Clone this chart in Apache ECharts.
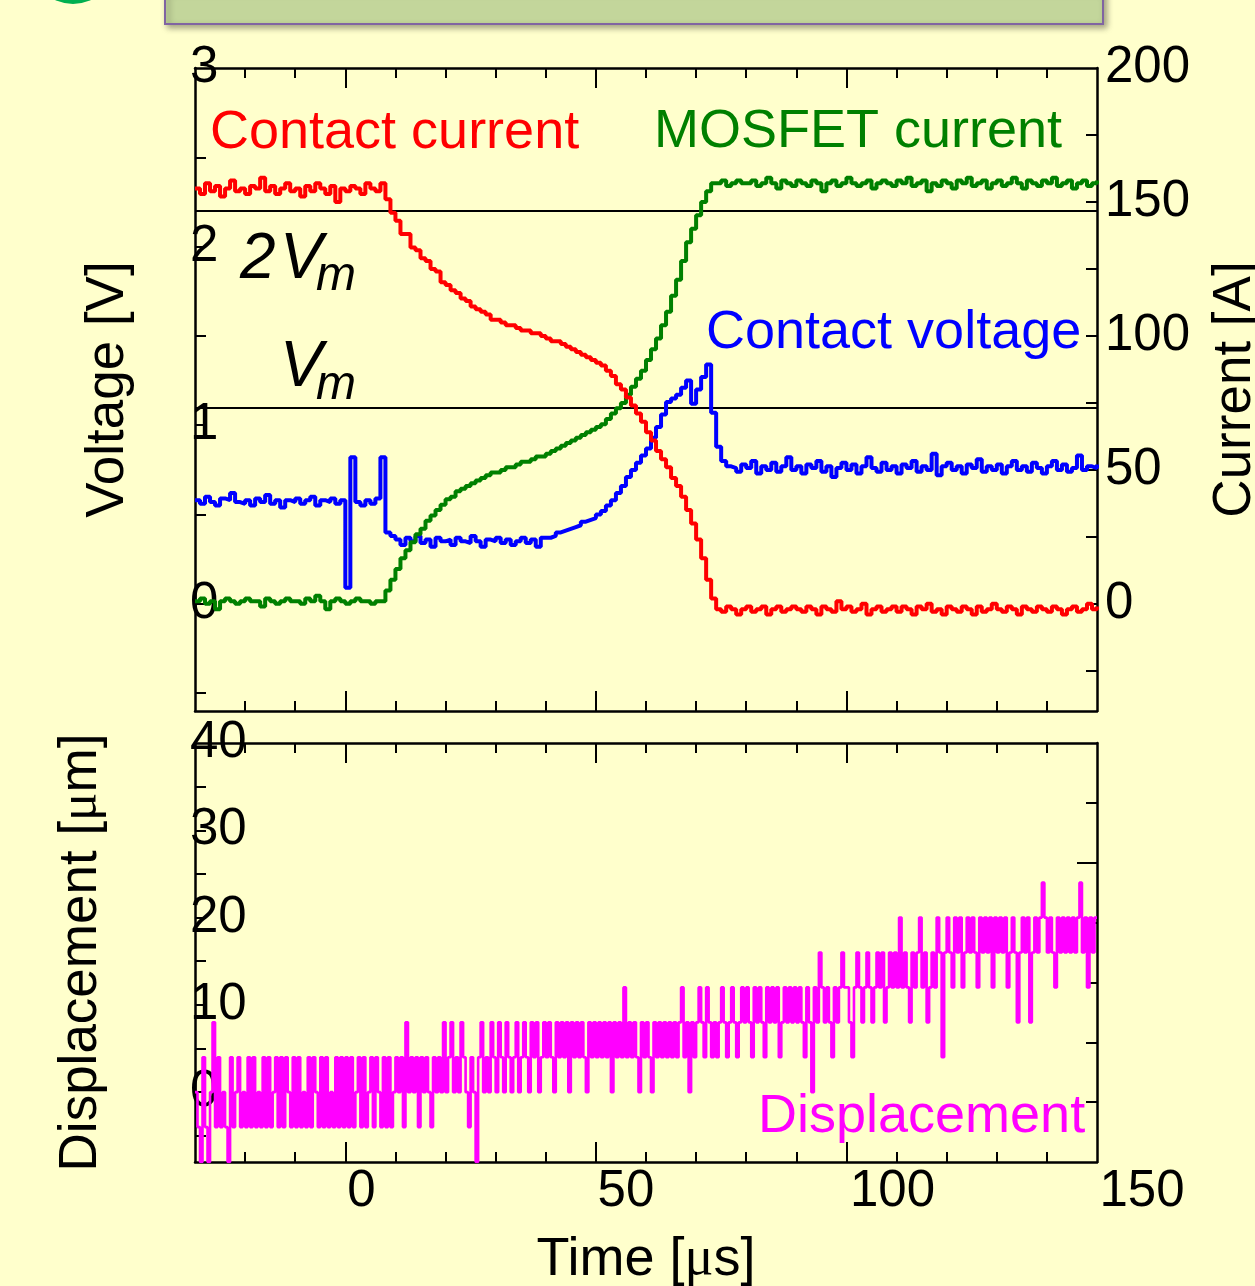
<!DOCTYPE html>
<html>
<head>
<meta charset="utf-8">
<script src="https://cdn.jsdelivr.net/npm/echarts@6/dist/echarts.min.js"></script>
<style>
  html, body { margin: 0; padding: 0; background: #ffffcc; }
  #chart { width: 1255px; height: 1286px; }
</style>
</head>
<body>
<div id="chart"></div>
<script>
// sample timing of the scope traces [us]
const timeStart = -30;
const timeStep = 1;      // top panel traces
const dispStep = 0.5;    // displacement trace

// contact current [A], t = -30 .. 150
const contactCurrent = [
  155,153,157,154,156,152,155,158,154,155,
  153,156,155,159,154,156,153,155,157,154,
  155,152,156,154,157,155,153,156,150,155,
  154,156,155,153,157,155,154,157,151,146,
  143,138,138,133,132,129,128,125,124,120,
  119,117,116,114,113,111,110,109,108,106,
  106,105,104,104,103,102,102,101,101,100,
  99,98,98,97,96,95,94,93,92,91,
  90,89,87,85,82,80,77,74,71,68,
  64,61,57,54,51,47,44,40,35,30,
  24,17,9,2,-2,-3,-1,-2,-4,-2,
  -1,-3,-2,-1,-4,-2,-1,-3,-2,-1,
  -2,-3,-1,-2,-4,-1,-2,-3,1,-2,
  -1,-3,-2,0,-4,-2,-1,-3,-2,-1,
  -3,-1,-2,-4,-1,-2,0,-3,-2,-4,
  -1,-2,-3,-1,-2,-4,-1,-3,-2,0,
  -2,-3,-1,-2,-4,-1,-2,-3,-1,-2,
  -3,-1,-2,-4,-2,-1,-3,-2,0,-2,
  -1
];

// MOSFET current [A]
const mosfetCurrent = [
  1,2,0,1,-2,1,2,1,0,1,
  2,1,1,-1,2,1,0,1,2,1,
  1,0,2,1,3,1,-2,1,2,1,
  0,1,2,1,1,0,1,1,5,9,
  13,17,20,23,26,28,31,33,35,37,
  39,40,42,43,44,45,46,47,48,49,
  49,50,51,51,52,53,53,54,55,55,
  56,57,58,59,60,61,62,63,64,65,
  66,67,69,71,73,75,78,81,84,87,
  91,95,99,104,109,115,121,128,135,140,
  145,150,154,157,157,158,156,157,158,157,
  157,158,156,157,159,157,155,158,157,156,
  158,157,156,158,157,154,157,158,156,157,
  159,157,156,157,158,155,157,158,157,156,
  158,157,159,156,157,158,154,157,156,158,
  157,155,158,157,159,156,157,158,155,157,
  158,156,157,159,157,155,158,157,156,158,
  157,159,156,157,158,155,157,158,156,157,
  158
];

// contact voltage [V]
const contactVoltage = [
  0.58,0.56,0.60,0.57,0.55,0.59,0.58,0.62,0.57,0.56,
  0.58,0.55,0.59,0.57,0.61,0.56,0.58,0.54,0.58,0.57,
  0.59,0.56,0.58,0.60,0.55,0.58,0.57,0.59,0.56,0.58,
  0.09,0.82,0.57,0.55,0.58,0.56,0.59,0.82,0.40,0.38,
  0.36,0.33,0.37,0.35,0.38,0.34,0.36,0.32,0.37,0.35,
  0.36,0.33,0.37,0.35,0.34,0.38,0.35,0.32,0.36,0.35,
  0.37,0.34,0.36,0.33,0.35,0.37,0.34,0.36,0.32,0.37,
  0.37,0.38,0.40,0.41,0.42,0.43,0.44,0.46,0.47,0.48,
  0.50,0.52,0.55,0.58,0.62,0.66,0.71,0.75,0.79,0.83,
  0.87,0.93,0.99,1.06,1.13,1.15,1.17,1.21,1.25,1.12,
  1.20,1.27,1.34,1.07,0.88,0.80,0.77,0.76,0.74,0.78,
  0.76,0.80,0.73,0.77,0.75,0.79,0.74,0.77,0.82,0.75,
  0.77,0.73,0.78,0.76,0.80,0.74,0.77,0.71,0.76,0.79,
  0.75,0.78,0.73,0.77,0.82,0.76,0.74,0.79,0.75,0.77,
  0.73,0.78,0.76,0.80,0.74,0.77,0.75,0.84,0.72,0.77,
  0.79,0.75,0.77,0.73,0.78,0.76,0.81,0.74,0.77,0.75,
  0.78,0.73,0.77,0.80,0.75,0.77,0.74,0.79,0.76,0.73,
  0.77,0.80,0.75,0.78,0.74,0.76,0.83,0.75,0.77,0.76,
  0.78
];

// displacement [um], t = -30 .. 150 every 0.5 us
const displacement = [
  0,-4,-8,4,-4,-8,0,8,-4,4,-4,0,-4,-8,4,-4,0,4,-4,0,
  -4,4,-4,4,-4,0,-4,4,-4,4,-4,0,4,-4,4,-4,4,0,-4,4,
  -4,4,-4,0,-4,4,-4,4,0,-4,4,-4,4,-4,0,-4,4,-4,4,-4,
  4,-4,4,-4,0,4,-4,4,-4,0,4,-4,4,0,-4,4,-4,4,-4,0,
  4,0,4,-4,8,0,4,0,4,-4,4,0,4,0,-4,4,0,4,0,8,
  0,4,8,0,4,0,8,4,0,-4,4,0,-8,4,8,0,4,0,8,4,
  0,8,4,0,8,4,0,4,8,0,4,8,4,0,8,4,8,0,4,8,
  4,8,4,0,8,4,8,4,8,0,8,4,8,4,8,4,0,8,4,8,
  4,8,4,8,4,8,0,8,4,8,4,12,4,8,4,8,4,0,8,4,
  8,4,0,8,4,8,4,8,4,8,4,8,4,8,12,4,8,0,8,4,
  8,12,8,4,12,8,4,8,4,8,12,8,4,8,12,8,4,8,12,8,
  12,8,4,12,8,12,8,4,12,8,12,8,12,4,8,12,8,12,8,12,
  8,12,8,4,12,8,0,12,8,16,12,8,12,8,4,12,8,12,16,12,
  12,8,4,12,16,12,8,12,16,12,8,12,16,12,16,8,12,16,12,16,
  12,20,12,16,12,8,16,12,16,20,12,16,8,12,16,12,20,16,4,16,
  20,16,12,20,16,20,12,16,20,16,20,16,12,20,16,20,16,20,12,20,
  16,20,16,20,12,16,20,16,8,16,20,16,20,8,16,20,16,20,24,20,
  16,20,16,12,20,16,20,16,20,16,20,16,20,24,16,20,12,20,16,20,
  20
];

// reference levels Vm and 2Vm [V]
const vmLevels = [1.1, 2.2];

// ticks and labels
const timeMinorTicks = [-20,-10,10,20,30,40,60,70,80,90,110,120,130,140];
const timeMajorTicks = [0,50,100];
const timeLabels = [0,50,100,150];
const voltTicks = [-0.5,0,0.5,1,1.5,2,2.5];
const voltLabels = [0,1,2,3];
const currentTicks = [-25,0,25,50,75,100,125,150,175];
const currentLabels = [0,50,100,150,200];
const dispTicks = [-5,0,5,10,15,20,25,30,35];
const dispLabels = [0,10,20,30,40];

function withTime(values, step) {
  return values.map((v, i) => [timeStart + i * step, v]);
}

const FONT = 'Liberation Sans, Arial, sans-serif';
const black = '#000';

function frameX(grid, pos, ticks, len, extra) {
  return Object.assign({
    type: 'value', gridIndex: grid, position: pos, min: -30, max: 150,
    axisLine: { onZero: false, lineStyle: { color: black, width: 2.5 } },
    axisTick: { inside: true, length: len, customValues: ticks, lineStyle: { color: black, width: 2 } },
    axisLabel: { show: false },
    splitLine: { show: false }
  }, extra || {});
}

// x labels sit a bit right of their ticks in the original slide
const labelShift = { 0: 'a', 50: 'b', 100: 'c', 150: 'd' };

let chart = echarts.init(document.getElementById('chart'));
chart.setOption({
  animation: false,
  backgroundColor: '#ffffcc',
  textStyle: { fontFamily: FONT },
  grid: [
    { left: 195, top: 68, width: 902, height: 643, containLabel: false, outerBoundsMode: 'none' },
    { left: 195, top: 743, width: 902, height: 419, containLabel: false, outerBoundsMode: 'none' }
  ],
  xAxis: [
    frameX(0, 'bottom', timeMinorTicks, 10),
    frameX(0, 'bottom', timeMajorTicks, 20, { axisLine: { show: false, onZero: false } }),
    frameX(0, 'top', timeMinorTicks, 10),
    frameX(0, 'top', timeMajorTicks, 20, { axisLine: { show: false, onZero: false } }),
    frameX(1, 'bottom', timeMinorTicks, 10, {
      name: '{t|Time [}{u|μ}{t|s]}',
      nameLocation: 'middle',
      nameGap: 71,
      nameTextStyle: {
        rich: {
          t: { fontSize: 54, fontFamily: FONT, color: black },
          u: { fontSize: 54, fontFamily: 'Liberation Serif, serif', color: black }
        }
      },
      axisLabel: {
        show: true, customValues: timeLabels, margin: 4,
        formatter: v => '{' + labelShift[v] + '|' + v + '}',
        rich: {
          a: { fontSize: 51, color: black, fontFamily: FONT, padding: [0, 0, 0, 32] },
          b: { fontSize: 51, color: black, fontFamily: FONT, padding: [0, 0, 0, 60] },
          c: { fontSize: 51, color: black, fontFamily: FONT, padding: [0, 0, 0, 92] },
          d: { fontSize: 51, color: black, fontFamily: FONT, padding: [0, 0, 0, 90] }
        }
      }
    }),
    frameX(1, 'bottom', timeMajorTicks, 20, { axisLine: { show: false, onZero: false } }),
    frameX(1, 'top', timeMinorTicks, 10),
    frameX(1, 'top', timeMajorTicks, 20, { axisLine: { show: false, onZero: false } })
  ],
  yAxis: [
    {
      type: 'value', gridIndex: 0, position: 'left', min: -0.6, max: 3,
      name: 'Voltage [V]', nameLocation: 'middle', nameGap: 60, nameRotate: 90,
      nameTextStyle: { fontSize: 53, color: black },
      axisLine: { onZero: false, lineStyle: { color: black, width: 2.5 } },
      axisTick: { inside: true, length: 11, customValues: voltTicks, lineStyle: { color: black, width: 2 } },
      axisLabel: { customValues: voltLabels, align: 'left', margin: 5, fontSize: 51, color: black },
      splitLine: { show: false }
    },
    {
      type: 'value', gridIndex: 0, position: 'right', min: -40, max: 200,
      name: 'Current [A]', nameLocation: 'middle', nameGap: 112, nameRotate: 90,
      nameTextStyle: { fontSize: 53, color: black },
      axisLine: { onZero: false, lineStyle: { color: black, width: 2.5 } },
      axisTick: { inside: true, length: 11, customValues: currentTicks, lineStyle: { color: black, width: 2 } },
      axisLabel: { customValues: currentLabels, margin: 8, fontSize: 51, color: black },
      splitLine: { show: false }
    },
    {
      type: 'value', gridIndex: 1, position: 'left', min: -8, max: 40,
      name: '{t|Displacement [}{u|μ}{t|m]}', nameLocation: 'middle', nameGap: 87, nameRotate: 90,
      nameTextStyle: {
        rich: {
          t: { fontSize: 53, fontFamily: FONT, color: black },
          u: { fontSize: 53, fontFamily: 'Liberation Serif, serif', color: black }
        }
      },
      axisLine: { onZero: false, lineStyle: { color: black, width: 2.5 } },
      axisTick: { inside: true, length: 11, customValues: dispTicks, lineStyle: { color: black, width: 2 } },
      axisLabel: { customValues: dispLabels, align: 'left', margin: 5, fontSize: 51, color: black },
      splitLine: { show: false }
    },
    {
      type: 'value', gridIndex: 1, position: 'right', min: 0, max: 7,
      axisLine: { onZero: false, lineStyle: { color: black, width: 2.5 } },
      axisTick: { inside: true, length: 11, customValues: [1, 2, 3, 4, 6], lineStyle: { color: black, width: 2 } },
      axisLabel: { show: false },
      splitLine: { show: false }
    },
    {
      type: 'value', gridIndex: 1, position: 'right', min: 0, max: 7,
      axisLine: { show: false, onZero: false },
      axisTick: { inside: true, length: 20, customValues: [5], lineStyle: { color: black, width: 2 } },
      axisLabel: { show: false },
      splitLine: { show: false }
    }
  ],
  series: [
    {
      name: 'Contact voltage', type: 'line', xAxisIndex: 0, yAxisIndex: 0,
      step: 'end', showSymbol: false, data: withTime(contactVoltage, timeStep),
      lineStyle: { color: '#0000ff', width: 4 },
      markLine: {
        silent: true, symbol: 'none', z: 1,
        label: { show: false },
        lineStyle: { color: black, width: 2, type: 'solid' },
        data: vmLevels.map(v => ({ yAxis: v }))
      }
    },
    {
      name: 'MOSFET current', type: 'line', xAxisIndex: 0, yAxisIndex: 1,
      step: 'end', showSymbol: false, data: withTime(mosfetCurrent, timeStep),
      lineStyle: { color: '#008000', width: 4 }
    },
    {
      name: 'Contact current', type: 'line', xAxisIndex: 0, yAxisIndex: 1,
      step: 'end', showSymbol: false, data: withTime(contactCurrent, timeStep),
      lineStyle: { color: '#ff0000', width: 4 }
    },
    {
      name: 'Displacement', type: 'line', xAxisIndex: 4, yAxisIndex: 2,
      step: 'end', showSymbol: false, data: withTime(displacement, dispStep),
      lineStyle: { color: '#ff00ff', width: 2.6 }
    }
  ],
  graphic: [
    // bits of the slide around the chart
    { type: 'circle', shape: { cx: 73, cy: -38, r: 42 }, style: { fill: '#00b050' } },
    {
      type: 'rect', shape: { x: 165, y: -10, width: 938, height: 34 },
      style: { fill: '#c3d69b', stroke: '#8064a2', lineWidth: 2,
        shadowBlur: 6, shadowOffsetX: 3, shadowOffsetY: 3, shadowColor: 'rgba(0,0,0,0.35)' }
    },
    { type: 'text', x: 210, y: 133, style: { text: 'Contact current', fill: '#ff0000', font: '54px ' + FONT, textVerticalAlign: 'middle' } },
    { type: 'text', x: 654, y: 132, style: { text: 'MOSFET current', fill: '#008000', font: '54px ' + FONT, textVerticalAlign: 'middle' } },
    { type: 'text', x: 706, y: 333, style: { text: 'Contact voltage', fill: '#0000ff', font: '54px ' + FONT, textVerticalAlign: 'middle' } },
    { type: 'text', x: 758, y: 1117, style: { text: 'Displacement', fill: '#ff00ff', font: '54px ' + FONT, textVerticalAlign: 'middle' } },
    { type: 'text', x: 240, y: 260, style: { text: '2', fill: black, font: 'italic 64px ' + FONT, textVerticalAlign: 'middle' } },
    { type: 'text', x: 280, y: 260, style: { text: 'V', fill: black, font: 'italic 64px ' + FONT, textVerticalAlign: 'middle' } },
    { type: 'text', x: 316, y: 277, style: { text: 'm', fill: black, font: 'italic 48px ' + FONT, textVerticalAlign: 'middle' } },
    { type: 'text', x: 280, y: 368, style: { text: 'V', fill: black, font: 'italic 64px ' + FONT, textVerticalAlign: 'middle' } },
    { type: 'text', x: 316, y: 386, style: { text: 'm', fill: black, font: 'italic 48px ' + FONT, textVerticalAlign: 'middle' } }
  ]
});
</script>
</body>
</html>
